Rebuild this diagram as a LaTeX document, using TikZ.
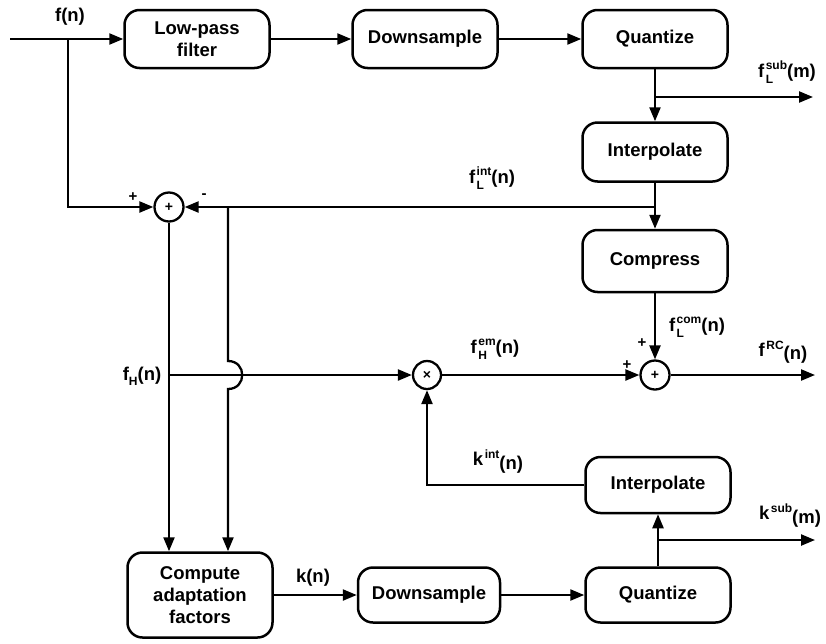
\documentclass[tikz,border=0pt]{standalone}
\usepackage{fontspec}
\setmainfont{Liberation Sans}
\usetikzlibrary{arrows.meta}
\newcommand{\lblSS}[2]{\kern1.5pt{\fontsize{12}{12}\selectfont\begin{tabular}{@{}l@{}}#1\\[1.5pt]#2\end{tabular}}}
\newcommand{\lblSup}[1]{\kern1.5pt\raisebox{7pt}{\fontsize{12}{12}\selectfont #1}}
\newcommand{\lblSub}[1]{\raisebox{-5pt}{\fontsize{12}{12}\selectfont #1}}
\begin{document}
\begin{tikzpicture}[x=1pt,y=-1pt,
  every node/.style={font=\fontsize{18.5}{22}\selectfont\bfseries},
  blk/.style={draw, line width=2.5pt, rounded corners=15pt, minimum width=145pt, minimum height=58pt, align=center, inner sep=2pt},
  junc/.style={draw, circle, line width=2.3pt, minimum size=29pt, inner sep=0pt, font=\fontsize{14}{14}\selectfont\bfseries},
  wire/.style={line width=2.3pt},
  arr/.style={wire, -{Triangle[length=14pt,width=11pt]}},
  lbl/.style={inner sep=0pt},
  sgn/.style={inner sep=0pt, font=\fontsize{15}{15}\selectfont\bfseries}
]
\useasboundingbox (0,0) rectangle (826,643);
% blocks
\node[blk] (lpf) at (197,39) {Low-pass\\filter};
\node[blk] (ds1) at (425,39) {Downsample};
\node[blk] (q1) at (655,39) {Quantize};
\node[blk, minimum height=59pt] (int1) at (655,152) {Interpolate};
\node[blk, minimum height=62pt] (comp) at (655,261) {Compress};
\node[junc] (s1) at (169,207) {+};
\node[junc] (s2) at (655,375) {+};
\node[junc, minimum size=28pt] (m) at (427,375) {×};
\node[blk, minimum height=85pt] (cmp) at (200,595) {Compute\\adaptation\\factors};
\node[blk, minimum width=142pt, minimum height=55pt] (ds2) at (429,595) {Downsample};
\node[blk, minimum height=55pt] (q2) at (658,595) {Quantize};
\node[blk, minimum height=56pt] (int2) at (658,485) {Interpolate};
% coordinates
\coordinate (in) at (10,39);
\coordinate (br) at (68,39);
\coordinate (j1) at (655,97);
\coordinate (o1) at (813,97);
\coordinate (j2) at (655,207);
\coordinate (j3) at (228,207);
\coordinate (fh) at (169,375);
\coordinate (o2) at (815,375);
\coordinate (j4) at (658,540);
\coordinate (o3) at (815,540);
% connectors
\draw[arr] (in) -- (lpf);
\draw[arr] (lpf) -- (ds1);
\draw[arr] (ds1) -- (q1);
\draw[wire] (q1) -- (j1);
\draw[arr] (j1) -- (int1);
\draw[arr] (j1) -- (o1);
\draw[wire] (int1) -- (j2);
\draw[arr] (j2) -- (comp);
\draw[arr] (j2) -- (s1);
\draw[arr] (br) |- (s1);
\draw[arr] (s1) -- (s1 |- cmp.north);
\draw[arr] (j3) -- (228,361) .. controls (247,361) and (247,389) .. (228,389) -- (j3 |- cmp.north);
\draw[arr] (fh) -- (m);
\draw[arr] (m) -- (s2);
\draw[arr] (comp) -- (s2);
\draw[arr] (s2) -- (o2);
\draw[arr] (cmp) -- (ds2);
\draw[arr] (ds2) -- (q2);
\draw[wire] (q2) -- (j4);
\draw[arr] (j4) -- (int2);
\draw[arr] (j4) -- (o3);
\draw[arr] (int2) -| (m);
% labels
\node[lbl] (l1) at (70,17) {f(n)};
\node[lbl] (l2) at (787,74) {f\lblSS{sub}{L}(m)};
\node[lbl] (l3) at (492,180) {f\lblSS{int}{L}(n)};
\node[lbl] (l4) at (142,376) {f\lblSub{H}(n)};
\node[lbl] (l5) at (495,350) {f\lblSS{em}{H}(n)};
\node[lbl] (l6) at (697,328) {f\lblSS{com}{L}(n)};
\node[lbl] (l7) at (783,352) {f\lblSup{RC}\raisebox{-3pt}{(n)}};
\node[lbl] (l8) at (498,462) {k\lblSup{int}\raisebox{-4pt}{(n)}};
\node[lbl] (l9) at (313,578) {k(n)};
\node[lbl] (l10) at (790,516) {k\lblSup{sub}\raisebox{-4pt}{(m)}};
\node[sgn] (p1) at (133,197) {+};
\node[sgn] (p2) at (204,196) {-};
\node[sgn] (p3) at (642,343) {+};
\node[sgn] (p4) at (627,365) {+};
\end{tikzpicture}
\end{document}
